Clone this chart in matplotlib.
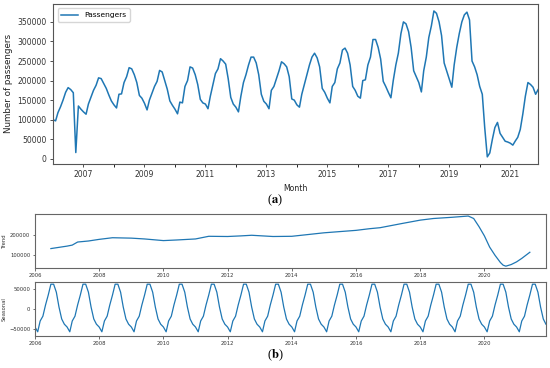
import numpy as np
import pandas as pd
import matplotlib
matplotlib.use("Agg")
import matplotlib.pyplot as plt

# monthly passengers (Jan..Dec for each year)
p2006 = [100000, 97000, 118000, 133000, 150000, 170000, 182000, 177000, 169000, 16000, 135000, 127000]
p2007 = [120000, 114000, 140000, 158000, 175000, 188000, 207000, 205000, 192000, 180000, 163000, 148000]
p2008 = [138000, 130000, 165000, 166000, 195000, 210000, 233000, 230000, 215000, 195000, 162000, 155000]
p2009 = [142000, 125000, 150000, 168000, 185000, 198000, 226000, 222000, 200000, 178000, 148000, 137000]
p2010 = [127000, 115000, 145000, 143000, 185000, 200000, 235000, 232000, 215000, 190000, 152000, 143000]
p2011 = [140000, 128000, 160000, 190000, 218000, 230000, 256000, 250000, 242000, 205000, 157000, 140000]
p2012 = [132000, 120000, 160000, 195000, 215000, 240000, 260000, 260000, 245000, 215000, 165000, 147000]
p2013 = [140000, 128000, 175000, 185000, 205000, 225000, 248000, 243000, 235000, 210000, 153000, 150000]
p2014 = [138000, 132000, 165000, 190000, 215000, 240000, 260000, 270000, 258000, 235000, 180000, 170000]
p2015 = [155000, 143000, 185000, 195000, 230000, 245000, 278000, 283000, 270000, 240000, 185000, 175000]
p2016 = [160000, 155000, 200000, 202000, 240000, 260000, 305000, 305000, 285000, 255000, 198000, 185000]
p2017 = [170000, 156000, 200000, 240000, 270000, 320000, 350000, 345000, 325000, 285000, 225000, 210000]
p2018 = [195000, 171000, 225000, 260000, 310000, 340000, 378000, 372000, 350000, 315000, 245000, 225000]
p2019 = [205000, 183000, 240000, 285000, 320000, 350000, 368000, 375000, 355000, 250000, 235000, 215000]
p2020 = [185000, 165000, 80000, 5000, 15000, 50000, 80000, 93000, 65000, 55000, 45000, 43000]
p2021 = [40000, 35000, 45000, 55000, 75000, 115000, 160000, 195000, 190000, 183000, 165000, 177000]

passengers = (p2006 + p2007 + p2008 + p2009 + p2010 + p2011 + p2012 + p2013
              + p2014 + p2015 + p2016 + p2017 + p2018 + p2019 + p2020 + p2021)
months = pd.date_range("2006-01-01", periods=len(passengers), freq="MS")

# trend component, read at a few points
trend_months = ["2006-07", "2007-01", "2007-03", "2007-05", "2007-09", "2008-01", "2008-06",
                "2009-01", "2009-06", "2010-01", "2010-06", "2011-01", "2011-06", "2012-01",
                "2012-06", "2012-10", "2013-06", "2014-01", "2014-06", "2015-01", "2015-06",
                "2016-01", "2016-06", "2016-10", "2017-06", "2018-01", "2018-06", "2019-01",
                "2019-07", "2019-09", "2019-11", "2020-01", "2020-03", "2020-05", "2020-07",
                "2020-08", "2020-09", "2020-11", "2021-01", "2021-03", "2021-06"]
trend_values = [133000, 145000, 150000, 165000, 170000, 178000, 186000,
                184000, 180000, 172000, 175000, 180000, 193000, 192000,
                195000, 198000, 192000, 193000, 200000, 210000, 215000,
                222000, 230000, 235000, 255000, 272000, 280000, 286000,
                292000, 280000, 240000, 195000, 140000, 100000, 65000,
                52000, 47000, 55000, 68000, 85000, 115000]

# seasonal component (same every year), Jan..Dec
seasonal_pattern = [-45000, -57000, -30000, -18000, 10000, 35000, 62000, 62000, 42000, 5000, -25000, -38000]
seasonal = np.tile(seasonal_pattern, len(months) // 12)

blue = "#1f77b4"
spine_col = "#555555"

fig = plt.figure(figsize=(5.5, 3.68), dpi=100)

# (a) passengers
ax = fig.add_axes([0.0964, 0.554, 0.882, 0.436])
ax.plot(months, passengers, color=blue, lw=1.1, label="Passengers")
ax.set_xlim(months[0], months[-1])
ax.set_ylim(-13600, 396600)
ax.set_yticks(np.arange(0, 350001, 50000))
ax.set_xticks([pd.Timestamp(f"{y}-01-01") for y in range(2007, 2022, 2)])
ax.set_xticklabels([str(y) for y in range(2007, 2022, 2)])
ax.set_xticks([pd.Timestamp(f"{y}-01-01") for y in range(2008, 2022, 2)], minor=True)
ax.tick_params(labelsize=5.5, length=2.5, width=0.6, pad=2, colors="#333333")
ax.tick_params(which="minor", length=1.8, width=0.6)
ax.set_ylabel("Number of passengers", fontsize=6.3, labelpad=3, color="#222222")
ax.set_xlabel("Month", fontsize=5.6, labelpad=3, color="#222222")
ax.legend(loc="upper left", fontsize=5.4, handlelength=2.2, borderpad=0.5,
          borderaxespad=0.6)
for s in ax.spines.values():
    s.set_color(spine_col)
    s.set_linewidth(0.8)

# (b) trend and seasonal
year_ticks = [pd.Timestamp(f"{y}-01-01") for y in range(2006, 2022, 2)]
year_labels = [str(y) for y in range(2006, 2022, 2)]

ax_t = fig.add_axes([0.0636, 0.2717, 0.929, 0.1468])
ax_t.plot(pd.to_datetime(trend_months), trend_values, color=blue, lw=0.9)
ax_t.set_xlim(months[0], months[-1])
ax_t.set_ylim(38000, 302000)
ax_t.set_yticks([100000, 200000])
ax_t.set_ylabel("Trend", fontsize=3.8, labelpad=2, color="#333333")

ax_s = fig.add_axes([0.0636, 0.087, 0.929, 0.1467])
ax_s.plot(months, seasonal, color=blue, lw=0.9)
ax_s.set_xlim(months[0], months[-1])
ax_s.set_ylim(-67500, 67500)
ax_s.set_yticks([-50000, 0, 50000])
ax_s.set_ylabel("Seasonal", fontsize=3.8, labelpad=2, color="#333333")

for a in (ax_t, ax_s):
    a.set_xticks(year_ticks)
    a.set_xticklabels(year_labels)
    a.tick_params(labelsize=3.8, length=1.8, width=0.5, pad=1.5, colors="#333333")
    for s in a.spines.values():
        s.set_color("#666666")
        s.set_linewidth(0.8)

plt.rcParams["mathtext.fontset"] = "stix"
fig.text(0.5, 1 - 200 / 368, r"($\mathbf{a}$)", ha="center", va="center",
         fontsize=9, family="Liberation Serif")
fig.text(0.5, 1 - 355 / 368, r"($\mathbf{b}$)", ha="center", va="center",
         fontsize=9, family="Liberation Serif")

fig.savefig("out.png", dpi=100)
